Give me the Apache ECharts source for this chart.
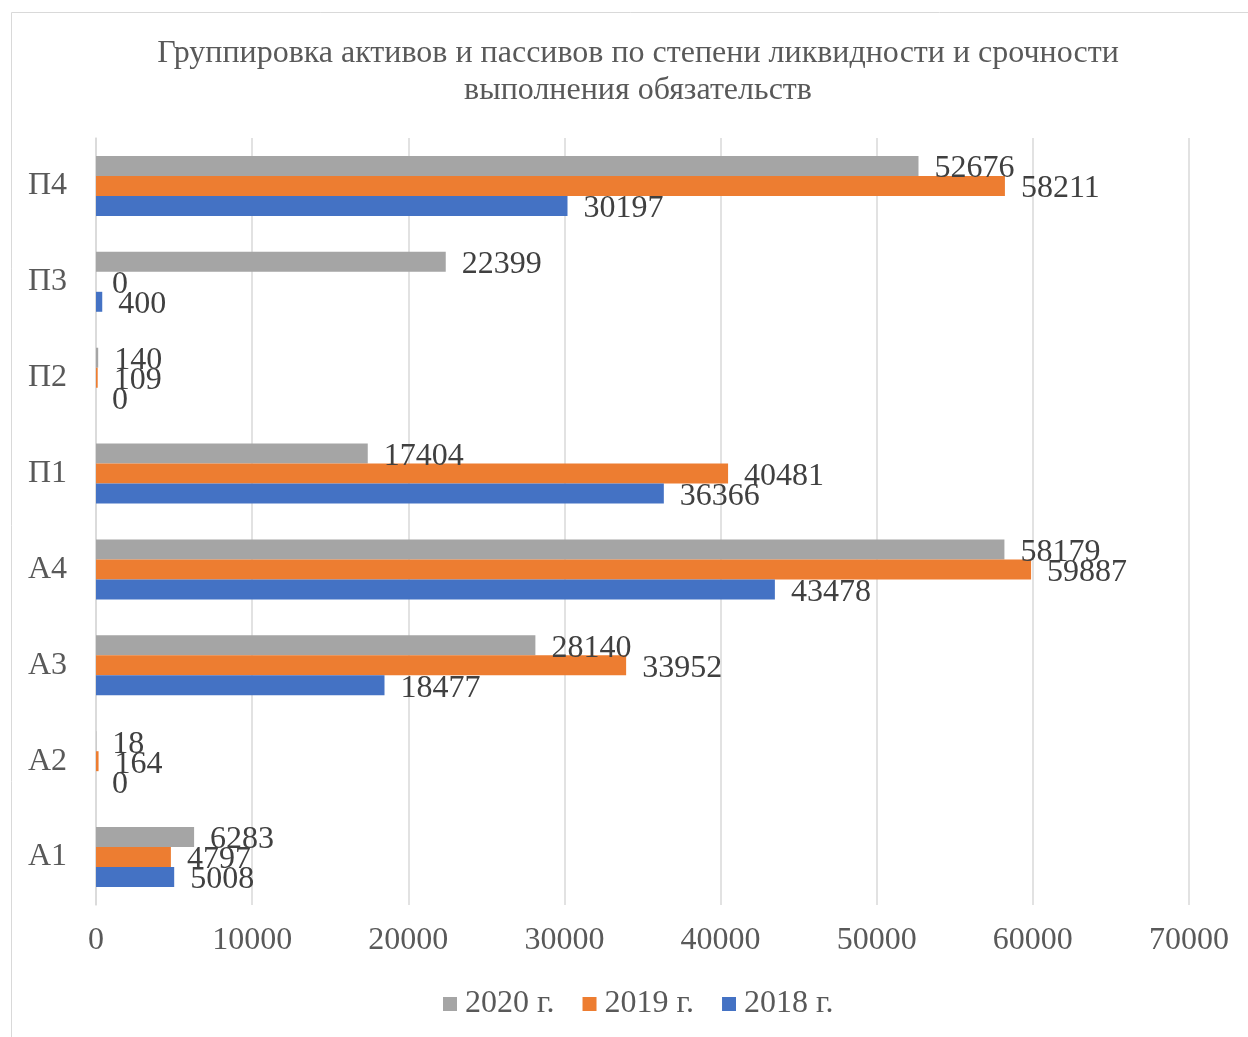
<!DOCTYPE html>
<html>
<head>
<meta charset="utf-8">
<script src="https://cdn.jsdelivr.net/npm/echarts@6/dist/echarts.min.js"></script>
<style>
html,body{margin:0;padding:0;background:#fff;}
#chart{width:1248px;height:1037px;}
</style>
</head>
<body>
<div id="chart"></div>
<script>
const categories = ['А1','А2','А3','А4','П1','П2','П3','П4'];
const values2018 = [5008, 0, 18477, 43478, 36366, 0, 400, 30197];
const values2019 = [4797, 164, 33952, 59887, 40481, 109, 0, 58211];
const values2020 = [6283, 18, 28140, 58179, 17404, 140, 22399, 52676];
const xTicks = {min: 0, max: 70000, interval: 10000};
const titleText = 'Группировка активов и пассивов по степени ликвидности и срочности\nвыполнения обязательств';

const FONT = '"Liberation Serif", "Times New Roman", serif';
const chart = echarts.init(document.getElementById('chart'));
const labelStyle = {show: true, position: 'right', distance: 16, fontFamily: FONT, fontSize: 32, color: '#404040', offset: [0, 3]};
function mk(name, data, color) {
  return {name, type: 'bar', data, barGap: '0%', barCategoryGap: '37.5%',
    itemStyle: {color}, label: labelStyle, emphasis: {disabled: true}};
}
chart.setOption({
  animation: false,
  graphic: [{type: 'rect', shape: {x: 11.5, y: 12.5, width: 1400, height: 1200},
    style: {fill: 'none', stroke: '#d9d9d9', lineWidth: 1}, silent: true, z: -10}],
  title: {text: titleText, left: 633, textAlign: 'center', top: 30,
    textStyle: {fontFamily: FONT, fontSize: 32, fontWeight: 'normal', color: '#595959', lineHeight: 37}},
  legend: {data: ['2020 г.', '2019 г.', '2018 г.'], bottom: 12, left: 438, itemWidth: 14, itemHeight: 14, itemGap: 28,
    icon: 'rect', textStyle: {fontFamily: FONT, fontSize: 32, color: '#595959', padding: [0, 0, 0, 3]}},
  grid: {left: 96, right: 59, top: 138, bottom: 132, containLabel: false},
  xAxis: {type: 'value', min: xTicks.min, max: xTicks.max, interval: xTicks.interval,
    axisLine: {show: false}, axisTick: {show: false},
    splitLine: {lineStyle: {color: '#d9d9d9', width: 1.5}},
    axisLabel: {fontFamily: FONT, fontSize: 32, color: '#595959', margin: 20, formatter: v => String(v)}},
  yAxis: {type: 'category', data: categories,
    axisLine: {lineStyle: {color: '#d9d9d9', width: 1.5}}, axisTick: {show: false},
    axisLabel: {fontFamily: FONT, fontSize: 32, color: '#595959', margin: 29}},
  series: [mk('2020 г.', values2020, '#a5a5a5'), mk('2019 г.', values2019, '#ed7d31'), mk('2018 г.', values2018, '#4472c4')]
});
</script>
</body>
</html>
